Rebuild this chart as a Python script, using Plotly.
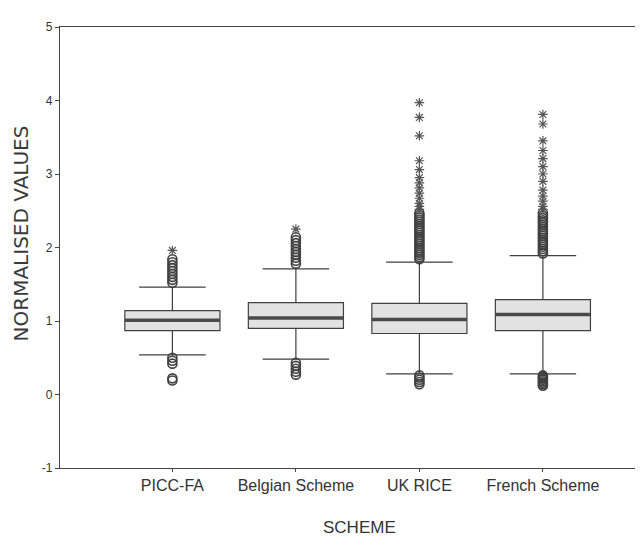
import plotly.graph_objects as go

schemes = ["PICC-FA", "Belgian Scheme", "UK RICE", "French Scheme"]
q1 = [0.87, 0.90, 0.83, 0.87]
median = [1.01, 1.04, 1.02, 1.09]
q3 = [1.14, 1.25, 1.24, 1.29]
lower_whisker = [0.54, 0.48, 0.28, 0.28]
upper_whisker = [1.46, 1.71, 1.80, 1.89]
y_ticks = [-1, 0, 1, 2, 3, 4, 5]
y_tick_labels = ["-1", "0", "1", "2", "3", "4", "5"]

circles_high = [
    [1.52, 1.56, 1.60, 1.64, 1.68, 1.72, 1.76, 1.80, 1.84],
    [1.78, 1.82, 1.86, 1.90, 1.94, 1.98, 2.02, 2.06, 2.10, 2.14],
    [1.84, 1.87, 1.90, 1.93, 1.96, 1.99, 2.02, 2.05, 2.08, 2.11, 2.14, 2.17,
     2.20, 2.23, 2.26, 2.29, 2.32, 2.35, 2.38, 2.41, 2.44, 2.47],
    [1.92, 1.95, 1.98, 2.01, 2.04, 2.07, 2.10, 2.13, 2.16, 2.19, 2.22, 2.25,
     2.28, 2.31, 2.34, 2.37, 2.40, 2.43, 2.47],
]
stars_high = [
    [1.96],
    [2.25],
    [2.52, 2.56, 2.60, 2.67, 2.74, 2.81, 2.88, 2.95, 3.06, 3.18, 3.52, 3.77, 3.97],
    [2.52, 2.56, 2.63, 2.70, 2.78, 2.90, 3.00, 3.10, 3.21, 3.32, 3.45, 3.68, 3.81],
]
circles_low = [
    [0.42, 0.46, 0.50, 0.19, 0.22],
    [0.27, 0.31, 0.35, 0.39, 0.43],
    [0.14, 0.17, 0.20, 0.23, 0.26],
    [0.12, 0.14, 0.16, 0.18, 0.20, 0.22, 0.24, 0.26],
]

ink = "#404040"
box_w = 0.77
positions = list(range(len(schemes)))

fig = go.Figure()
for i in positions:
    fig.add_trace(go.Box(
        x=[i], q1=[q1[i]], median=[median[i]], q3=[q3[i]],
        lowerfence=[lower_whisker[i]], upperfence=[upper_whisker[i]],
        width=box_w, whiskerwidth=0.7, boxpoints=False,
        fillcolor="#e2e2e2", line=dict(color=ink, width=1.2),
        showlegend=False, hoverinfo="skip",
    ))
    fig.add_trace(go.Scatter(
        x=[i - box_w / 2, i + box_w / 2], y=[median[i], median[i]],
        mode="lines", line=dict(color="#4a4a4a", width=3.5),
        showlegend=False, hoverinfo="skip",
    ))
    pts = circles_high[i] + circles_low[i]
    fig.add_trace(go.Scatter(
        x=[i] * len(pts), y=pts, mode="markers",
        marker=dict(symbol="circle-open", size=9, color=ink, line=dict(width=1.6)),
        showlegend=False, hoverinfo="skip",
    ))
    fig.add_trace(go.Scatter(
        x=[i] * len(stars_high[i]), y=stars_high[i], mode="markers",
        marker=dict(symbol="asterisk-open", size=8, color="#555555",
                    line=dict(width=1.2, color="#555555")),
        showlegend=False, hoverinfo="skip",
    ))

font = "Liberation Sans, Arial, sans-serif"
fig.update_layout(
    width=643, height=537,
    margin=dict(l=52, r=12, t=13, b=77),
    paper_bgcolor="white", plot_bgcolor="white",
    font=dict(family=font, color="#333333"),
    xaxis=dict(
        range=[-0.91, 3.77], tickmode="array", tickvals=positions, ticktext=schemes,
        showline=True, mirror=True, linecolor="#444444", linewidth=1.3,
        ticks="outside", ticklen=3, tickcolor="#444444", showgrid=False, zeroline=False,
        tickfont=dict(size=16, color="#333333"),
    ),
    yaxis=dict(
        range=[-1, 5], tickmode="array", tickvals=y_ticks, ticktext=y_tick_labels,
        showline=True, mirror=True, linecolor="#444444", linewidth=1.3,
        ticks="outside", ticklen=4, tickcolor="#444444", showgrid=False, zeroline=False,
        tickfont=dict(size=12, color="#333333"),
    ),
    annotations=[
        dict(text="NORMALISED VALUES", xref="paper", yref="paper", x=-0.0674, y=0.532,
             xanchor="center", yanchor="middle", textangle=-90, showarrow=False,
             font=dict(family="DejaVu Sans, sans-serif", size=20, color="#3a3a3a")),
        dict(text="SCHEME", xref="paper", yref="paper", x=0.519, y=-0.136,
             xanchor="center", yanchor="middle", showarrow=False,
             font=dict(size=17, color="#333333")),
    ],
)
fig.write_html("out.html")
